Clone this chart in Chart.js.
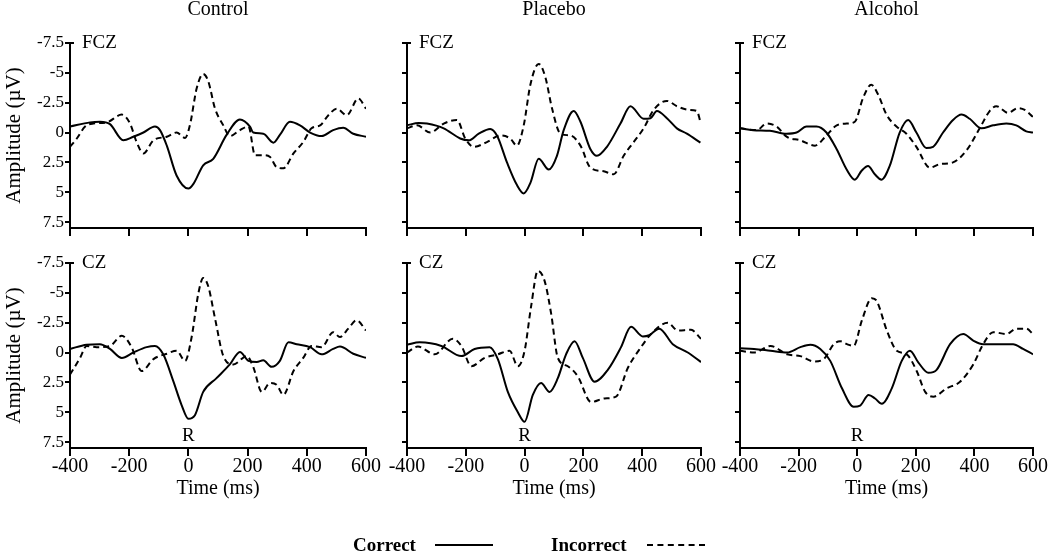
<!DOCTYPE html>
<html>
<head>
<meta charset="utf-8">
<script src="https://cdn.jsdelivr.net/npm/chart.js@4.4.0/dist/chart.umd.min.js"></script>
<style>
  html, body { margin:0; padding:0; background:#fff; }
  #wrap { position:relative; width:1050px; height:552px; overflow:hidden; background:#fff; }
  #wrap canvas { position:absolute; left:0; top:0; }
  .leg { position:absolute; font-family:'Liberation Serif','Times New Roman',serif; font-weight:bold; font-size:19px; color:#000; line-height:19px; }
  .lline { position:absolute; height:0; }
</style>
</head>
<body>
<div id="wrap">
  <canvas id="c0" width="1050" height="552"></canvas>
  <canvas id="c1" width="1050" height="552"></canvas>
  <canvas id="c2" width="1050" height="552"></canvas>
  <canvas id="c3" width="1050" height="552"></canvas>
  <canvas id="c4" width="1050" height="552"></canvas>
  <canvas id="c5" width="1050" height="552"></canvas>
  <div class="leg" style="left:353px; top:535px;">Correct</div>
  <div class="lline" style="left:435px; top:544px; width:58px; border-top:2px solid #000;"></div>
  <div class="leg" style="left:551px; top:535px;">Incorrect</div>
  <div class="lline" style="left:647px; top:544px; width:58px; border-top:2px dashed #000;"></div>
</div>
<script>
// ---- Data ----
const groups = ['Control', 'Placebo', 'Alcohol'];
const sites = ['FCZ', 'CZ'];
const seriesNames = ['Correct', 'Incorrect'];
const xTicks = [-400, -200, 0, 200, 400, 600];
const xTickLabels = ['-400', '-200', '0', '200', '400', '600'];
const yTicks = [-7.5, -5, -2.5, 0, 2.5, 5, 7.5];
const yTickLabels = ['-7.5', '-5', '-2.5', '0', '2.5', '5', '7.5'];

// Control FCZ
const ctrlFczCorT = [-400,-332,-299,-265,-220,-186,-152,-113,-96,-73,-40,0,17,50,84,129,174,208,219,253,287,309,343,377,411,450,489,523,557,600];
const ctrlFczCorV = [-0.5,-0.85,-0.9,-0.7,0.65,0.35,0,-0.5,-0.2,1.1,3.6,4.7,4.3,2.75,2.2,0.2,-1.1,-0.5,0,0.1,0.85,0.2,-0.9,-0.6,0,0.3,-0.2,-0.4,0.1,0.35];
const ctrlFczIncT = [-400,-377,-349,-321,-276,-225,-197,-175,-152,-118,-73,-40,-11,5,28,50,67,90,118,140,174,203,225,253,276,298,321,355,388,416,445,473,501,535,574,600];
const ctrlFczIncV = [1.2,0.5,-0.5,-0.75,-0.85,-1.5,-0.75,0.8,1.75,0.65,0.35,0,0.45,-0.6,-3.7,-4.9,-4.3,-2,-0.6,0.3,-0.2,-0.5,1.9,1.9,2.05,2.9,3.0,1.75,0.8,-0.35,-0.6,-1.45,-2.0,-1.45,-2.85,-2.0];

// Placebo FCZ
const placFczCorT = [-400,-360,-332,-275,-219,-190,-156,-117,-94,-60,-26,-3,20,48,82,110,133,167,190,224,246,280,326,360,405,428,450,484,518,552,598];
const placFczCorV = [-0.6,-0.8,-0.75,-0.35,0.5,0.65,0.1,-0.3,0.25,2.5,4.4,5.1,4.2,2.2,3.1,1.95,-0.2,-1.8,-0.9,1.4,1.95,1.2,-0.75,-2.2,-1.15,-1.2,-1.8,-1.2,-0.35,0.1,0.85];
const placFczIncT = [-400,-366,-321,-275,-230,-202,-173,-128,-83,-49,-26,-3,20,48,71,93,122,156,190,224,269,303,337,371,405,439,484,518,558,586,598];
const placFczIncV = [-0.35,-0.6,0,-0.75,-1.05,0.5,1.2,0.8,0.25,0.5,1.1,-0.6,-4.05,-5.75,-4.6,-2.05,0.1,0.25,1.1,2.95,3.25,3.5,1.95,0.8,-0.35,-1.9,-2.65,-2.2,-1.9,-1.8,-0.9];

// Alcohol FCZ
const alcFczCorT = [-400,-355,-298,-241,-207,-173,-139,-105,-70,-36,-8,15,37,60,83,111,145,174,202,236,259,293,327,356,384,424,464,509,543,577,600];
const alcFczCorV = [-0.35,-0.2,-0.15,0.1,0,-0.5,-0.5,0,1.4,3.1,3.95,3.2,2.8,3.5,3.95,2.8,0,-1.05,0,1.3,1.2,0,-1.05,-1.5,-1.15,-0.35,-0.6,-0.75,-0.6,-0.1,0];
const alcFczIncT = [-400,-343,-309,-275,-241,-195,-144,-105,-70,-36,-8,20,48,71,100,134,168,202,248,282,327,373,418,452,475,515,549,572,600];
const alcFczIncV = [-0.35,-0.2,-0.75,-0.5,0.35,0.65,1.1,0.25,-0.6,-0.75,-0.9,-2.9,-4.0,-3.2,-1.5,-0.5,0.1,1.2,2.95,2.65,2.5,1.5,-0.35,-1.8,-2.2,-1.65,-2.05,-1.9,-1.3];

// Control CZ
const ctrlCzCorT = [-400,-344,-299,-265,-225,-186,-141,-113,-85,-51,-23,0,22,50,95,140,174,203,231,253,281,309,338,366,411,450,489,512,557,600];
const ctrlCzCorV = [-0.3,-0.65,-0.7,-0.3,0.45,0,-0.45,-0.55,0.15,2.4,4.4,5.55,5.25,3.3,2.15,1.0,-0.05,0.7,0.8,0.65,1.2,0.7,-0.85,-0.7,-0.45,0.15,-0.3,-0.5,0.1,0.45];
const ctrlCzIncT = [-400,-366,-344,-310,-265,-225,-192,-158,-118,-73,-40,-11,11,34,50,67,90,118,152,197,219,248,276,298,321,355,388,416,450,489,512,540,568,600];
const ctrlCzIncV = [1.85,0.45,-0.55,-0.45,-0.55,-1.4,-0.45,1.55,0.55,0.1,-0.15,0.7,-1.3,-5.0,-6.25,-5.55,-2.85,0.3,1.0,0.3,1.2,3.3,2.55,2.7,3.55,1.55,0.45,-0.55,-0.45,-1.7,-1.3,-2.0,-2.7,-1.85];

// Placebo CZ
const placCzCorT = [-400,-357,-283,-215,-170,-119,-91,-57,-23,0,28,56,85,113,141,170,198,238,283,328,362,402,424,458,504,555,600];
const placCzCorV = [-0.65,-0.85,-0.55,0.3,-0.3,-0.45,0.55,3.3,5.0,5.8,3.55,2.55,3.3,2.15,0.15,-0.95,0.45,2.45,1.45,-0.45,-2.15,-1.35,-1.45,-2.0,-0.7,0,0.8];
const placCzIncT = [-400,-363,-306,-244,-215,-181,-136,-91,-51,-23,0,22,45,68,90,113,147,181,226,272,311,351,396,430,487,521,566,600];
const placCzIncV = [0,-0.5,0.15,-1.15,-0.55,1.15,0.45,0.15,-0.15,1.15,-0.15,-3.85,-6.85,-6.0,-3.3,0.45,1.15,2.0,4.15,3.85,3.7,1.3,-0.45,-1.55,-2.5,-1.85,-1.9,-1.15];

// Alcohol CZ
const alcCzCorT = [-400,-352,-296,-239,-194,-160,-126,-92,-52,-12,10,39,61,84,118,152,180,209,243,271,317,362,396,430,487,532,566,600];
const alcCzCorV = [-0.35,-0.3,-0.15,0,-0.45,-0.65,-0.3,0.7,3.0,4.55,4.45,3.55,3.85,4.3,3.0,0.7,-0.15,0.85,1.7,1.45,-0.7,-1.55,-1.0,-0.7,-0.7,-0.7,-0.3,0.15];
const alcCzIncT = [-400,-352,-296,-239,-194,-148,-114,-80,-58,-35,-12,16,50,67,101,135,169,203,232,260,305,351,396,430,464,510,543,577,600];
const alcCzIncV = [-0.15,0,-0.55,0.15,0.3,0.75,0.55,-0.7,-0.95,-0.7,-0.55,-2.7,-4.55,-4.3,-1.85,-0.15,0.15,1.55,3.3,3.7,3.0,2.45,1.0,-0.7,-1.7,-1.55,-2.0,-2.0,-1.55];

// ---- Layout (pixels) ----
const FONT = "'Liberation Serif','Times New Roman',serif";
const colLeft = [70, 407, 740];
const colRight = [366, 701, 1033];
const rowTop = [43, 263];
const rowBottom = [228, 448];

const panelText = {
  id: 'panelText',
  afterDraw(chart, args, opts) {
    const ctx = chart.ctx;
    const ca = chart.chartArea;
    const xs = chart.scales.x, ys = chart.scales.y;
    ctx.save();
    ctx.fillStyle = '#000';
    ctx.textBaseline = 'middle';
    if (opts.title) {
      ctx.font = '20px ' + FONT;
      ctx.textAlign = 'center';
      ctx.fillText(opts.title, (ca.left + ca.right) / 2, 10);
    }
    if (opts.site) {
      ctx.font = '19px ' + FONT;
      ctx.textAlign = 'left';
      ctx.fillText(opts.site, ca.left + 12, ys.getPixelForValue(-7.5));
    }
    if (opts.marker) {
      ctx.font = '19px ' + FONT;
      ctx.textAlign = 'center';
      ctx.fillText(opts.marker, xs.getPixelForValue(0), ys.getPixelForValue(7.5) - 6);
    }
    // small cap mark at top of y axis
    ctx.strokeStyle = '#000';
    ctx.lineWidth = 2;
    ctx.beginPath();
    ctx.moveTo(ca.left, ys.getPixelForValue(-7.5));
    ctx.lineTo(ca.left + 4, ys.getPixelForValue(-7.5));
    ctx.stroke();
    ctx.restore();
  }
};

function pts(t, v) { return t.map((x, i) => ({ x: x, y: v[i] })); }

function makePanel(id, col, row, corT, corV, incT, incV) {
  const yW = col === 0 ? 70 : 8;
  const xH = row === 1 ? 60 : 10;
  const pad = {
    left: colLeft[col] - yW,
    right: 1050 - colRight[col],
    top: rowTop[row],
    bottom: 552 - rowBottom[row] - xH
  };
  return new Chart(document.getElementById(id), {
    type: 'line',
    data: {
      datasets: [
        { label: seriesNames[0], data: pts(corT, corV), borderColor: '#000', borderWidth: 2, borderDash: [] },
        { label: seriesNames[1], data: pts(incT, incV), borderColor: '#000', borderWidth: 2, borderDash: [6, 4] }
      ]
    },
    options: {
      responsive: false,
      animation: false,
      devicePixelRatio: 1,
      layout: { padding: pad },
      elements: {
        point: { radius: 0 },
        line: { cubicInterpolationMode: 'monotone', fill: false }
      },
      plugins: {
        legend: { display: false },
        tooltip: { enabled: false },
        panelText: {
          title: row === 0 ? groups[col] : null,
          site: sites[row],
          marker: row === 1 ? 'R' : null
        }
      },
      scales: {
        x: {
          type: 'linear',
          min: -400, max: 600,
          afterBuildTicks: s => { s.ticks = xTicks.map(v => ({ value: v })); },
          afterFit: s => { s.height = xH; },
          grid: { display: true, drawOnChartArea: false, drawTicks: true, tickLength: 8, color: '#000', lineWidth: 2 },
          border: { display: true, color: '#000', width: 2 },
          ticks: {
            display: row === 1, color: '#000', autoSkip: false, maxRotation: 0, padding: -1,
            font: { family: FONT, size: 20 },
            callback: (v, i) => xTickLabels[i]
          },
          title: {
            display: row === 1, text: 'Time (ms)', color: '#000',
            font: { family: FONT, size: 20 }, padding: { top: 0, bottom: 7 }
          }
        },
        y: {
          type: 'linear',
          reverse: true,
          min: -7.5, max: 8,
          afterBuildTicks: s => { s.ticks = yTicks.map(v => ({ value: v })); },
          afterFit: s => { s.width = yW; },
          grid: { display: true, drawOnChartArea: false, drawTicks: true, tickLength: 5, color: '#000', lineWidth: 2 },
          border: { display: true, color: '#000', width: 2 },
          ticks: {
            display: col === 0, color: '#000', autoSkip: false, padding: 1,
            font: { family: FONT, size: 17 },
            callback: (v, i) => yTickLabels[i]
          },
          title: {
            display: col === 0, text: 'Amplitude (\u00B5V)', color: '#000',
            font: { family: FONT, size: 21 }, padding: { top: 2, bottom: 0 }
          }
        }
      }
    },
    plugins: [panelText]
  });
}

makePanel('c0', 0, 0, ctrlFczCorT, ctrlFczCorV, ctrlFczIncT, ctrlFczIncV);
makePanel('c1', 1, 0, placFczCorT, placFczCorV, placFczIncT, placFczIncV);
makePanel('c2', 2, 0, alcFczCorT, alcFczCorV, alcFczIncT, alcFczIncV);
makePanel('c3', 0, 1, ctrlCzCorT, ctrlCzCorV, ctrlCzIncT, ctrlCzIncV);
makePanel('c4', 1, 1, placCzCorT, placCzCorV, placCzIncT, placCzIncV);
makePanel('c5', 2, 1, alcCzCorT, alcCzCorV, alcCzIncT, alcCzIncV);
</script>
</body>
</html>
